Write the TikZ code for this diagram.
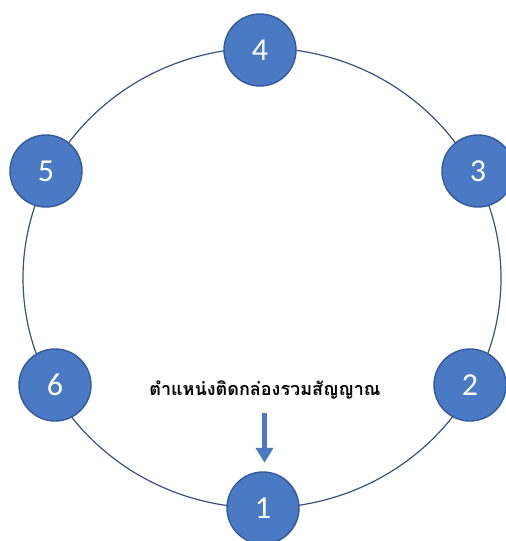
\documentclass[tikz,border=0pt]{standalone}
\usepackage{fontspec}
\setmainfont{Carlito}
\newfontfamily\thaifont[Script=Thai]{Loma}
\usetikzlibrary{arrows.meta}
\definecolor{officeblue}{HTML}{4A7AC4}
\definecolor{rimblue}{HTML}{33599A}
\definecolor{ringline}{HTML}{3A5078}

\begin{document}
\begin{tikzpicture}[x=1pt,y=1pt,
  spot/.style={circle,draw=rimblue,line width=1.4pt,fill=officeblue,text=white,
    minimum size=72pt,inner sep=0pt,font=\fontsize{32}{32}\selectfont},
  tag/.style={font=\thaifont\bfseries\fontsize{18}{20}\selectfont}]
\useasboundingbox (0,0) rectangle (506,541);
% ring of positions
\draw[ringline,line width=1.2pt] (262,263) ellipse [x radius=239,y radius=230];
\node[spot] (n4) at (260,491) {4};
\node[spot] (n5) at (46,370) {5};
\node[spot] (n3) at (478,370) {3};
\node[spot] (n6) at (55,156) {6};
\node[spot] (n2) at (470,156) {2};
\node[spot] (n1) at (263,33) {1};
% junction box marker
\node[tag] (box) at (265,151) {ตำแหน่งติดกล่องรวมสัญญาณ};
\coordinate (drop) at (264.5,128);
\draw[officeblue,line width=5.5pt,shorten >=8.5pt,-{Triangle[width=17pt,length=15pt]}] (drop) -- (drop |- n1.north);
\end{tikzpicture}
\end{document}
